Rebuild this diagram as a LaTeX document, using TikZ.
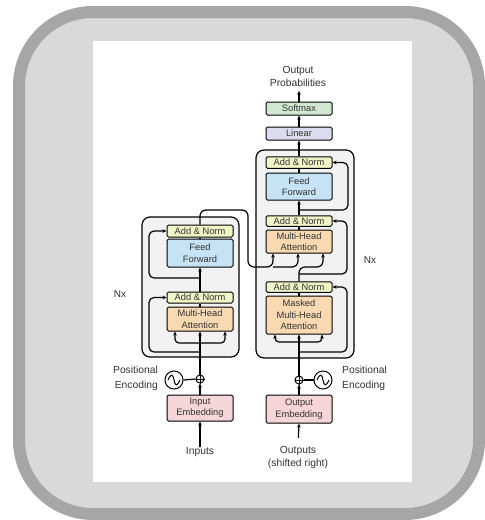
\documentclass[tikz,border=0pt]{standalone}
\usepackage{fontspec}
\setmainfont{Liberation Sans}
\usetikzlibrary{arrows.meta,calc}
\definecolor{framegray}{HTML}{A6A6A6}
\definecolor{framefill}{HTML}{D9D9D9}
\definecolor{anyellow}{HTML}{F1F4C6}
\definecolor{ffblue}{HTML}{C5E3F4}
\definecolor{mhaorange}{HTML}{F9D9B1}
\definecolor{embpink}{HTML}{F5D5D8}
\definecolor{linlav}{HTML}{DCDCF0}
\definecolor{smgreen}{HTML}{D0E8D2}
\definecolor{blockgray}{HTML}{F2F2F2}
\definecolor{txt}{HTML}{333333}
\begin{document}
\begin{tikzpicture}[x=1pt,y=-1pt,
  box/.style={draw=black, line width=1pt, rounded corners=1.5pt, minimum width=66pt,
    inner sep=0pt, align=center, text=txt, font=\fontsize{9.3}{11.5}\selectfont},
  blockbox/.style={draw=black, line width=1.2pt, rounded corners=8pt, fill=blockgray, inner sep=0pt},
  conn/.style={line width=1.2pt, -{Stealth[length=4pt,width=3.5pt]}},
  wire/.style={line width=1.2pt},
  lbl/.style={text=txt, align=center, inner sep=0pt, font=\fontsize{10.3}{13}\selectfont},
  circ/.style={circle, draw=black, line width=1pt, inner sep=0pt}
]
\useasboundingbox (0,0) rectangle (485,520);
% frame
\draw[framegray, fill=framefill, line width=12pt, rounded corners=74pt] (19,12) rectangle (479,514);
\fill[white] (93,41) rectangle (412,482);

% blocks
\node[blockbox, minimum width=97pt, minimum height=140pt] (encblock) at (190.5,287) {};
\node[blockbox, minimum width=98pt, minimum height=208pt] (decblock) at (305,254) {};

% encoder nodes
\node[box, fill=anyellow, minimum height=12pt] (ean2) at (200,231) {Add \& Norm};
\node[box, fill=ffblue, minimum height=28pt] (eff) at (200,253) {Feed\\Forward};
\node[box, fill=anyellow, minimum height=11pt] (ean1) at (200,297.5) {Add \& Norm};
\node[box, fill=mhaorange, minimum height=24pt] (emha) at (200,319) {Multi-Head\\Attention};
\node[box, fill=embpink, minimum height=26pt] (inemb) at (200,408) {Input\\Embedding};
\node[circ, minimum size=8pt] (eplus) at (200,379) {};
\node[circ, minimum size=18pt] (esine) at (174,380) {};
\draw[line width=1pt] ($(eplus.north)$) -- ($(eplus.south)$) ($(eplus.west)$) -- ($(eplus.east)$);
\draw[line width=1pt] ([xshift=-6pt]esine.center) .. controls ([xshift=-3pt,yshift=7pt]esine.center) and ([xshift=-1pt,yshift=6pt]esine.center) .. (esine.center) .. controls ([xshift=1pt,yshift=-6pt]esine.center) and ([xshift=3pt,yshift=-7pt]esine.center) .. ([xshift=6pt]esine.center);

% decoder nodes
\node[box, fill=smgreen, minimum height=13pt] (softmax) at (299,108.5) {Softmax};
\node[box, fill=linlav, minimum height=13pt] (linear) at (299,133.5) {Linear};
\node[box, fill=anyellow, minimum height=11.5pt] (dan3) at (299,162.5) {Add \& Norm};
\node[box, fill=ffblue, minimum height=27pt] (dff) at (299,186.5) {Feed\\Forward};
\node[box, fill=anyellow, minimum height=10.5pt] (dan2) at (299,221) {Add \& Norm};
\node[box, fill=mhaorange, minimum height=23pt] (dmha) at (299,241.5) {Multi-Head\\Attention};
\node[box, fill=anyellow, minimum height=10.5pt] (dan1) at (299,287) {Add \& Norm};
\node[box, fill=mhaorange, minimum height=38pt] (dmmha) at (299,315) {Masked\\Multi-Head\\Attention};
\node[box, fill=embpink, minimum height=28pt] (outemb) at (299,409) {Output\\Embedding};
\node[circ, minimum size=8pt] (dplus) at (299,380) {};
\node[circ, minimum size=18pt] (dsine) at (323,380) {};
\draw[line width=1pt] ($(dplus.north)$) -- ($(dplus.south)$) ($(dplus.west)$) -- ($(dplus.east)$);
\draw[line width=1pt] ([xshift=-6pt]dsine.center) .. controls ([xshift=-3pt,yshift=7pt]dsine.center) and ([xshift=-1pt,yshift=6pt]dsine.center) .. (dsine.center) .. controls ([xshift=1pt,yshift=-6pt]dsine.center) and ([xshift=3pt,yshift=-7pt]dsine.center) .. ([xshift=6pt]dsine.center);

% labels
\node[lbl] (outprob) at (298,76.5) {Output\\Probabilities};
\node[lbl] (inputs) at (200,452) {Inputs};
\node[lbl] (outputs) at (298,457.5) {Outputs\\(shifted right)};
\node[lbl, align=right, anchor=east, font=\fontsize{10.3}{15}\selectfont] (epos) at (158,378.5) {Positional\\Encoding};
\node[lbl, align=left, anchor=west, font=\fontsize{10.3}{15}\selectfont] (dpos) at (342,378.5) {Positional\\Encoding};
\node[lbl, font=\fontsize{10}{12}\selectfont] (enx) at (120,294) {Nx};
\node[lbl, font=\fontsize{10}{12}\selectfont] (dnx) at (370,260) {Nx};

% coordinates
\coordinate (ebr) at (200,343);
\coordinate (eres1) at (200,352);
\coordinate (eres1c) at (149,297.5);
\coordinate (eres2) at (200,278);
\coordinate (eres2c) at (149,231);
\coordinate (eo1) at (200,210);
\coordinate (eo2) at (248,210);
\coordinate (eo3) at (248,267);
\coordinate (eo4) at (273,267);
\coordinate (eo5) at (298,267);
\coordinate (dq) at (323,267);
\coordinate (dbr) at (299,342);
\coordinate (dres1) at (299,352);
\coordinate (dres1c) at (347,287);
\coordinate (dres2) at (299,274);
\coordinate (dres2c) at (347,221);
\coordinate (dres3) at (299,210);
\coordinate (dres3c) at (348,162.5);

% encoder connectors
\draw[conn, shorten <=8pt] (inputs.north) -- (inemb.north |- inputs.north) -- (inemb.south);
\draw[conn] (inemb.north) -- (eplus.south);
\draw[wire] (esine.east) -- (eplus.west);
\draw[conn] (eplus.north) -- (emha.south);
\draw[conn, rounded corners=4pt] (ebr) -| ([xshift=-25pt]emha.south);
\draw[conn, rounded corners=4pt] (ebr) -| ([xshift=25pt]emha.south);
\draw[conn, rounded corners=5pt] (eres1) -| (eres1c) -- (ean1.west);
\draw[wire] (emha.north) -- (ean1.south);
\draw[conn] (ean1.north) -- (eff.south);
\draw[conn, rounded corners=5pt] (eres2) -| (eres2c) -- (ean2.west);
\draw[wire] (eff.north) -- (ean2.south);
\draw[conn, rounded corners=6pt] (ean2.north) -- (eo1) -- (eo2) -- (eo3) -- (eo4) -- (dmha.south -| eo4);
\draw[conn, rounded corners=6pt] (eo4) -- (eo5) -- (dmha.south -| eo5);

% decoder connectors
\draw[conn, shorten <=8pt] (outputs.north) -- (outemb.south);
\draw[conn] (outemb.north) -- (dplus.south);
\draw[wire] (dplus.east) -- (dsine.west);
\draw[conn] (dplus.north) -- (dmmha.south);
\draw[conn, rounded corners=4pt] (dbr) -| ([xshift=-24pt]dmmha.south);
\draw[conn, rounded corners=4pt] (dbr) -| ([xshift=23pt]dmmha.south);
\draw[conn, rounded corners=5pt] (dres1) -| (dres1c) -- (dan1.east);
\draw[wire] (dmmha.north) -- (dan1.south);
\draw[conn, rounded corners=6pt] (dan1.north) -- (eo5 -| dan1.north) -- (dq) -- (dmha.south -| dq);
\draw[conn, rounded corners=5pt] (dres2) -| (dres2c) -- (dan2.east);
\draw[wire] (dmha.north) -- (dan2.south);
\draw[conn] (dan2.north) -- (dff.south);
\draw[conn, rounded corners=5pt] (dres3) -| (dres3c) -- (dan3.east);
\draw[wire] (dff.north) -- (dan3.south);
\draw[conn] (dan3.north) -- (linear.south);
\draw[conn] (linear.north) -- (softmax.south);
\draw[conn, shorten >=4pt] (softmax.north) -- (outprob.south -| softmax.north);
\end{tikzpicture}
\end{document}
